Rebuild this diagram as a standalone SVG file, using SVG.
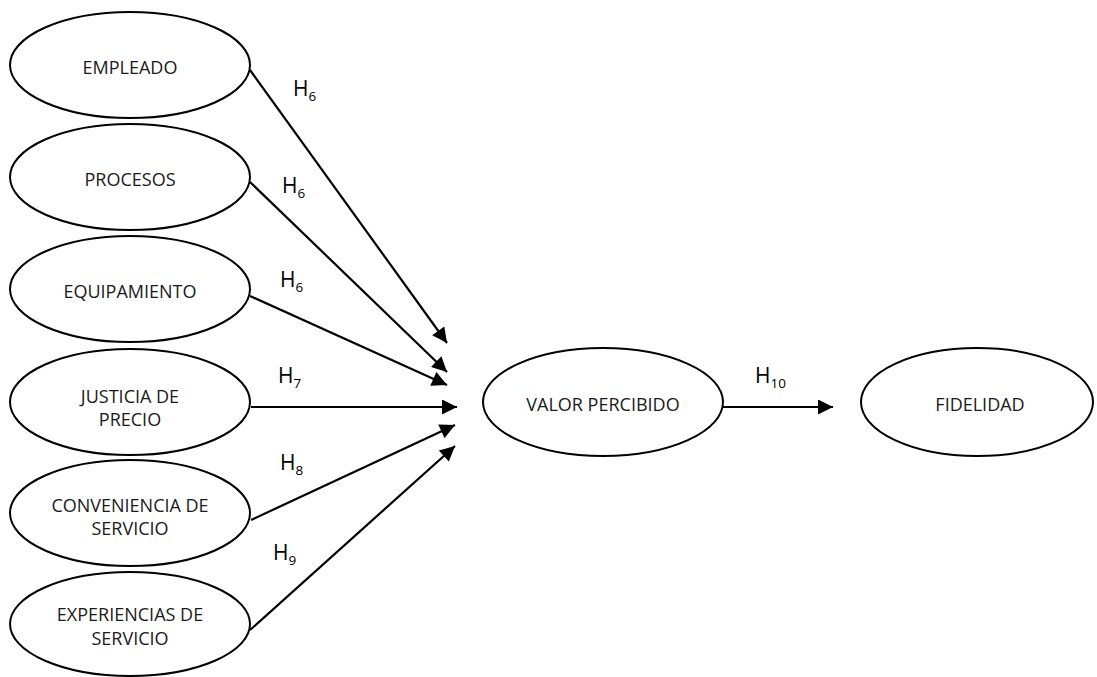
<svg xmlns="http://www.w3.org/2000/svg" width="1097" height="677" viewBox="0 0 1097 677">
  <style>
    .node ellipse { fill: #ffffff; stroke: #000000; stroke-width: 2; }
    .node text { font-family: "Open Sans", "Liberation Sans", sans-serif; font-size: 18px; fill: #1a1a1a; text-anchor: middle; }
    .edge { stroke: #000000; stroke-width: 2.2; fill: none; marker-end: url(#arrow); }
    .lbl { font-family: "Open Sans", "Liberation Sans", sans-serif; font-size: 21px; fill: #000000; }
    .sub { font-size: 13.5px; }
  </style>
  <defs>
    <marker id="arrow" viewBox="0 0 10 10" refX="10" refY="5" markerUnits="userSpaceOnUse" markerWidth="17" markerHeight="15" orient="auto">
      <path d="M0,0 L10,5 L0,10 Z" fill="#000000"/>
    </marker>
  </defs>
  <rect width="1097" height="677" fill="#ffffff"/>

  <!-- connectors -->
  <g id="connectors">
    <line class="edge" x1="250" y1="70" x2="447" y2="343"/>
    <line class="edge" x1="250" y1="182" x2="447" y2="372"/>
    <line class="edge" x1="250" y1="296" x2="447" y2="385"/>
    <line class="edge" x1="251" y1="407" x2="457" y2="407"/>
    <line class="edge" x1="251" y1="520" x2="455" y2="425"/>
    <line class="edge" x1="250" y1="630" x2="455" y2="446"/>
    <line class="edge" x1="723" y1="407" x2="833" y2="407"/>
    <text class="lbl" x="293" y="96">H<tspan class="sub" dy="5">6</tspan></text>
    <text class="lbl" x="282" y="193">H<tspan class="sub" dy="5">6</tspan></text>
    <text class="lbl" x="280" y="287">H<tspan class="sub" dy="5">6</tspan></text>
    <text class="lbl" x="278" y="383">H<tspan class="sub" dy="5">7</tspan></text>
    <text class="lbl" x="280" y="470">H<tspan class="sub" dy="5">8</tspan></text>
    <text class="lbl" x="273" y="560">H<tspan class="sub" dy="5">9</tspan></text>
    <text class="lbl" x="755" y="383">H<tspan class="sub" dy="5">10</tspan></text>
  </g>

  <!-- nodes -->
  <g id="empleado" class="node">
    <ellipse cx="130" cy="65" rx="120" ry="53"/>
    <text x="130" y="74">EMPLEADO</text>
  </g>
  <g id="procesos" class="node">
    <ellipse cx="130" cy="177" rx="120" ry="53"/>
    <text x="130" y="186">PROCESOS</text>
  </g>
  <g id="equipamiento" class="node">
    <ellipse cx="130" cy="289" rx="120" ry="53"/>
    <text x="130" y="298">EQUIPAMIENTO</text>
  </g>
  <g id="justicia" class="node">
    <ellipse cx="130" cy="402" rx="120" ry="53"/>
    <text x="130" y="403">JUSTICIA DE</text>
    <text x="130" y="426">PRECIO</text>
  </g>
  <g id="conveniencia" class="node">
    <ellipse cx="130" cy="513" rx="120" ry="53"/>
    <text x="130" y="512">CONVENIENCIA DE</text>
    <text x="130" y="535">SERVICIO</text>
  </g>
  <g id="experiencias" class="node">
    <ellipse cx="130" cy="624" rx="120" ry="52"/>
    <text x="130" y="621">EXPERIENCIAS DE</text>
    <text x="130" y="645">SERVICIO</text>
  </g>
  <g id="valor" class="node">
    <ellipse cx="603" cy="402" rx="120" ry="54"/>
    <text x="603" y="411">VALOR PERCIBIDO</text>
  </g>
  <g id="fidelidad" class="node">
    <ellipse cx="977" cy="402" rx="116" ry="54"/>
    <text x="980" y="411">FIDELIDAD</text>
  </g>
</svg>
